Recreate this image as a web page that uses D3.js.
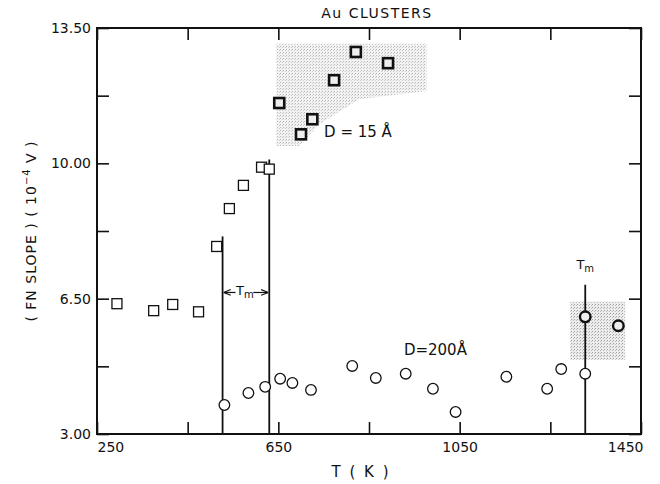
<!DOCTYPE html>
<html>
<head>
<meta charset="utf-8">
<script src="https://cdn.jsdelivr.net/npm/d3@7"></script>
<style>
  body { margin: 0; background: #fff; }
  svg text { font-family: "DejaVu Sans", sans-serif; fill: #111; }
</style>
</head>
<body>
<div id="chart"></div>
<script>
// D = 15 A clusters (squares)
const squareT = [294, 375, 417, 474, 514, 542, 573, 613, 630, 652, 700, 725, 773, 821, 892];
const squareV = [6.37, 6.19, 6.35, 6.16, 7.85, 8.83, 9.43, 9.90, 9.85, 11.56, 10.75, 11.14, 12.15, 12.88, 12.59];
// D = 200 A clusters (circles)
const circleT = [531, 584, 621, 654, 681, 722, 813, 865, 931, 991, 1041, 1153, 1243, 1274, 1327, 1327, 1400];
const circleV = [3.75, 4.06, 4.22, 4.43, 4.32, 4.14, 4.76, 4.45, 4.56, 4.17, 3.57, 4.48, 4.17, 4.68, 4.56, 6.03, 5.80];
// shaded (liquid) regions, [T, slope]
const shadeSmall = [[646, 13.09], [977, 13.09], [977, 11.87], [828, 11.66], [740, 11.01], [696, 10.45], [646, 10.45]];
const shadeLarge = [[1294, 6.42], [1415, 6.42], [1415, 4.92], [1294, 4.92]];
// melting-temperature markers
const meltT = [527, 630, 1327];
const meltTop = [8.11, 10.10, 6.86];
// ticks
const xTicks = [250, 450, 650, 850, 1050, 1250, 1450];
const xLabels = [250, 650, 1050, 1450];
const yTicks = [3.0, 4.75, 6.5, 8.25, 10.0, 11.75, 13.5];
const yLabels = [3.0, 6.5, 10.0, 13.5];

const W = 660, H = 484;
const margin = { top: 28, right: 19, bottom: 50, left: 97 };
const width = W - margin.left - margin.right;
const height = H - margin.top - margin.bottom;

const svg = d3.select('#chart').append('svg')
    .attr('width', W)
    .attr('height', H);

// stipple pattern for shaded regions
const defs = svg.append('defs');
const pat = defs.append('pattern')
    .attr('id', 'stipple')
    .attr('width', 3).attr('height', 3)
    .attr('patternUnits', 'userSpaceOnUse');
pat.append('rect').attr('width', 3).attr('height', 3).attr('fill', '#ececec');
pat.append('rect').attr('width', 1).attr('height', 1).attr('fill', '#9a9a9a');
pat.append('rect').attr('x', 2).attr('y', 1).attr('width', 1).attr('height', 1).attr('fill', '#b8b8b8');

const g = svg.append('g').attr('transform', `translate(${margin.left},${margin.top})`);

const x = d3.scaleLinear().domain([250, 1450]).range([0, width]);
const y = d3.scaleLinear().domain([3, 13.5]).range([height, 0]);

const line = d3.line().x(d => x(d[0])).y(d => y(d[1]));

g.append('path').attr('d', line(shadeSmall) + 'Z').attr('fill', 'url(#stipple)').attr('opacity', 0.7);
g.append('path').attr('d', line(shadeLarge) + 'Z').attr('fill', 'url(#stipple)').attr('opacity', 0.95);

// axes, ticks pointing inward
const fmt = d => d.toFixed(2);
const xAxisB = d3.axisBottom(x).tickValues(xTicks).tickSize(-12).tickSizeOuter(0).tickPadding(8)
    .tickFormat(d => xLabels.includes(d) ? d : '');
const xAxisT = d3.axisTop(x).tickValues(xTicks).tickSize(-12).tickSizeOuter(0).tickFormat('');
const yAxisL = d3.axisLeft(y).tickValues(yTicks).tickSize(-12).tickSizeOuter(0).tickPadding(6)
    .tickFormat(d => yLabels.includes(d) ? fmt(d) : '');
const yAxisR = d3.axisRight(y).tickValues(yTicks).tickSize(-12).tickSizeOuter(0).tickFormat('');

function styleAxis(sel) {
    sel.select('.domain').remove();
    sel.selectAll('line').attr('stroke', '#111').attr('stroke-width', 1.6);
    sel.selectAll('text').style('font-size', '14px').style('font-family', '"DejaVu Sans", sans-serif').attr('fill', '#111');
}

const gxb = g.append('g').attr('transform', `translate(0,${height})`).call(xAxisB).call(styleAxis);
gxb.selectAll('.tick text')
    .attr('text-anchor', d => d === 250 ? 'start' : d === 1450 ? 'end' : 'middle')
    .attr('dx', d => d === 1450 ? 2 : 0);
g.append('g').call(xAxisT).call(styleAxis);
g.append('g').call(yAxisL).call(styleAxis);
g.append('g').attr('transform', `translate(${width},0)`).call(yAxisR).call(styleAxis);

g.append('rect')
    .attr('width', width).attr('height', height)
    .attr('fill', 'none').attr('stroke', '#111').attr('stroke-width', 2);

// melting lines
g.selectAll('.melt')
    .data(meltT.map((t, i) => ({ t, top: meltTop[i] })))
    .enter().append('line')
    .attr('class', 'melt')
    .attr('x1', d => x(d.t)).attr('x2', d => x(d.t))
    .attr('y1', d => y(d.top)).attr('y2', y(3))
    .attr('stroke', '#111').attr('stroke-width', 1.8);

// Tm double arrow between first two lines
const tmY = y(6.66);
defs.append('marker').attr('id', 'ah')
    .attr('viewBox', '0 0 10 10').attr('refX', 10).attr('refY', 5)
    .attr('markerWidth', 6).attr('markerHeight', 6).attr('orient', 'auto-start-reverse')
    .append('path').attr('d', 'M0,1 L10,5 L0,9').attr('fill', 'none').attr('stroke', '#111').attr('stroke-width', 1.5);
g.append('line')
    .attr('x1', x(meltT[0]) + 1).attr('x2', x(meltT[0]) + 13)
    .attr('y1', tmY).attr('y2', tmY)
    .attr('stroke', '#111').attr('stroke-width', 1.2).attr('marker-start', 'url(#ah)');
g.append('line')
    .attr('x1', x(meltT[1]) - 16).attr('x2', x(meltT[1]) - 1)
    .attr('y1', tmY).attr('y2', tmY)
    .attr('stroke', '#111').attr('stroke-width', 1.2).attr('marker-end', 'url(#ah)');

function tmLabel(cx, cy) {
    const t = g.append('text').attr('x', cx).attr('y', cy).attr('text-anchor', 'middle').style('font-size', '13px');
    t.append('tspan').text('T');
    t.append('tspan').attr('dy', 3).style('font-size', '10px').text('m');
}
tmLabel((x(meltT[0]) + x(meltT[1])) / 2 - 1, tmY + 3);
tmLabel(x(meltT[2]), y(7.27));

// markers
const inBox = (t, v, poly) => {
    const ts = poly.map(p => p[0]), vs = poly.map(p => p[1]);
    return t >= d3.min(ts) && t <= d3.max(ts) && v >= d3.min(vs) && v <= d3.max(vs);
};
const squares = squareT.map((t, i) => ({ t, v: squareV[i] }));
const circles = circleT.map((t, i) => ({ t, v: circleV[i] }));

g.selectAll('.sq').data(squares).enter().append('rect')
    .attr('class', 'sq')
    .attr('x', d => x(d.t) - 5).attr('y', d => y(d.v) - 5)
    .attr('width', 10).attr('height', 10)
    .attr('fill', d => inBox(d.t, d.v, shadeSmall) ? '#eee' : '#fff')
    .attr('stroke', '#111')
    .attr('stroke-width', d => inBox(d.t, d.v, shadeSmall) ? 2.6 : 1.3);

g.selectAll('.ci').data(circles).enter().append('circle')
    .attr('class', 'ci')
    .attr('cx', d => x(d.t)).attr('cy', d => y(d.v))
    .attr('r', 5.3)
    .attr('fill', d => inBox(d.t, d.v, shadeLarge) ? '#eee' : '#fff')
    .attr('stroke', '#111')
    .attr('stroke-width', d => inBox(d.t, d.v, shadeLarge) ? 2.4 : 1.3);

// series labels
g.append('text').attr('x', x(751)).attr('y', y(10.68)).style('font-size', '15px').text('D = 15 Å');
g.append('text').attr('x', x(927)).attr('y', y(5.05)).style('font-size', '15px').text('D=200Å');

// title and axis titles
svg.append('text')
    .attr('x', 377).attr('y', 18)
    .attr('text-anchor', 'middle')
    .style('font-size', '14px').style('letter-spacing', '1.5px')
    .text('Au  CLUSTERS');

svg.append('text')
    .attr('x', margin.left + x(850) - 8).attr('y', 477)
    .attr('text-anchor', 'middle')
    .style('font-size', '15px').style('letter-spacing', '2px')
    .text('T ( K )');

const yl = svg.append('text')
    .attr('transform', `translate(36,231) rotate(-90)`)
    .attr('text-anchor', 'middle')
    .style('font-size', '14px').style('letter-spacing', '1px');
yl.append('tspan').text('( FN  SLOPE ) ( 10');
yl.append('tspan').attr('dy', -6).style('font-size', '10px').text('−4');
yl.append('tspan').attr('dy', 6).text(' V )');
</script>
</body>
</html>
